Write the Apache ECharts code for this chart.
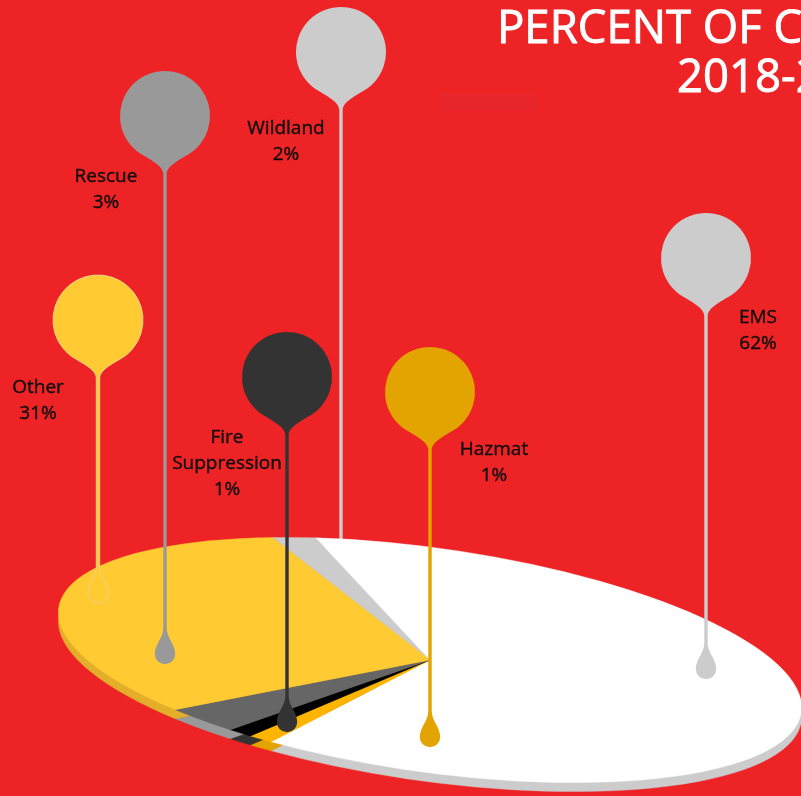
<!DOCTYPE html>
<html>
<head>
<meta charset="utf-8">
<title>Percent of Calls by Type</title>
<script src="https://cdn.jsdelivr.net/npm/echarts@6.0.0/dist/echarts.min.js"></script>
<style>
  html, body { margin: 0; padding: 0; background: #EE2325; overflow: hidden; }
  #chart { width: 801px; height: 796px; }
</style>
</head>
<body>
<div id="chart"></div>
<script>
// Call types, listed clockwise around the disc starting at the back (Wildland)
const categories = ['Wildland', 'EMS', 'Hazmat', 'Fire Suppression', 'Rescue', 'Other'];
const percents = [2, 62, 1, 1, 3, 31];

const titleLines = ['PERCENT OF CALLS BY TYPE', '2018-2019'];

// Colours: top face of each slice, its edge, and its marker pin
const sliceColors = ['#CCCCCC', '#FFFFFF', '#FFB400', '#000000', '#666666', '#FFCA32'];
const rimColors   = ['#AAAAAA', '#CCCCCC', '#E3A300', '#333333', '#999999', '#E3AE2A'];
const pinColors   = ['#CCCCCC', '#CCCCCC', '#E3A300', '#333333', '#999999', '#FFCA32'];

// Tilted disc: centre, radii of the flattened circle, tilt and edge depth (px)
const disc = { cx: 430, cy: 660, rx: 375, ry: 112, tilt: 8, depth: 9, startAngle: 117.5 };

// Pin placement: head centre, drop centre y, label centre; drawn behind the disc or in front
const pins = [
  { head: [341, 52],  tipY: 600, label: [286, 142], back: true },
  { head: [706, 258], tipY: 669, label: [758, 331] },
  { head: [430, 392], tipY: 737, label: [494, 463] },
  { head: [287, 377], tipY: 722, label: [227, 464] },
  { head: [165, 116], tipY: 654, label: [106, 190] },
  { head: [98, 320],  tipY: 593, label: [38, 401], outline: '#EDD38C' }
];

const total = percents.reduce((a, b) => a + b, 0);
const DEG = Math.PI / 180;

// One slice of the tilted disc, angles taken from the cumulative share
function sliceRenderer(colors, offsetY) {
  return function (params, api) {
    const i = params.dataIndex;
    let before = 0;
    for (let k = 0; k < i; k++) before += percents[k];
    const a0 = -disc.startAngle + before / total * 360;
    const a1 = a0 + api.value(0) / total * 360;
    return {
      type: 'group',
      x: disc.cx,
      y: disc.cy + offsetY,
      rotation: -disc.tilt * DEG,
      scaleY: disc.ry / disc.rx,
      children: [{
        type: 'sector',
        shape: { cx: 0, cy: 0, r0: 0, r: disc.rx, startAngle: a0 * DEG, endAngle: a1 * DEG, clockwise: true },
        style: { fill: colors[i], stroke: colors[i], lineWidth: 0.6 }
      }]
    };
  };
}

// Balloon-shaped pin: round head, short neck, thin stem and a drop at the tip
function pinPath(x, hy, ty) {
  const r = 45, s = r * Math.sin(40 * DEG), c = r * Math.cos(40 * DEG);
  const w = 1.7, dr = 10.2, neckY = hy + 58;
  return [
    'M', x - s, hy + c,
    'A', r, r, 0, 1, 1, x + s, hy + c,
    'C', x + 21.2, hy + 40.9, x + w, hy + 48, x + w, neckY,
    'L', x + w, ty - 26,
    'C', x + w, ty - 16, x + dr, ty - 10, x + dr, ty,
    'A', dr, dr, 0, 0, 1, x - dr, ty,
    'C', x - dr, ty - 10, x - w, ty - 16, x - w, ty - 26,
    'L', x - w, neckY,
    'C', x - w, hy + 48, x - 21.2, hy + 40.9, x - s, hy + c,
    'Z'
  ].join(' ');
}

function pinRenderer(params, api) {
  const i = api.value(0);
  const p = pins[i];
  return {
    type: 'path',
    shape: { pathData: pinPath(p.head[0], p.head[1], p.tipY) },
    style: p.outline
      ? { fill: pinColors[i], stroke: p.outline, lineWidth: 1 }
      : { fill: pinColors[i] }
  };
}

const backPins = [], frontPins = [];
pins.forEach((p, i) => (p.back ? backPins : frontPins).push(i));

const labelFont = '19px "Open Sans", "Noto Sans", sans-serif';
const labels = categories.map((name, i) => ({
  type: 'text',
  x: pins[i].label[0],
  y: pins[i].label[1],
  z: 20,
  silent: true,
  style: {
    text: name.replace(' ', '\n') + '\n' + percents[i] + '%',
    font: labelFont,
    fill: '#0D0D0D',
    stroke: '#0D0D0D',
    lineWidth: 0.35,
    align: 'center', textAlign: 'center',
    verticalAlign: 'middle', textVerticalAlign: 'middle',
    lineHeight: 26
  }
}));

const titleFont = '45.5px "Open Sans", "Noto Sans", sans-serif';
const titleStyle = (text) => ({
  text, font: titleFont, fill: '#FFFFFF', stroke: '#FFFFFF', lineWidth: 0.9,
  align: 'left', textAlign: 'left', verticalAlign: 'middle', textVerticalAlign: 'middle'
});

const chart = echarts.init(document.getElementById('chart'), null, { renderer: 'canvas' });
chart.setOption({
  backgroundColor: '#EE2325',
  animation: false,
  graphic: [
    { type: 'rect', z: 1, silent: true, shape: { x: 440, y: 94, width: 98, height: 17 }, style: { fill: '#E8262C' } },
    { type: 'text', x: 497, y: 30, z: 20, silent: true, style: titleStyle(titleLines[0]) },
    { type: 'text', x: 677, y: 79, z: 20, silent: true, style: titleStyle(titleLines[1]) }
  ].concat(labels),
  series: [
    { name: 'pins-back', type: 'custom', coordinateSystem: 'none', z: 1, silent: true,
      data: backPins, renderItem: pinRenderer },
    { name: 'edge', type: 'custom', coordinateSystem: 'none', z: 2, silent: true,
      data: percents, renderItem: sliceRenderer(rimColors, disc.depth) },
    { name: 'Percent of calls', type: 'custom', coordinateSystem: 'none', z: 3, silent: true,
      data: percents, renderItem: sliceRenderer(sliceColors, 0) },
    { name: 'pins-front', type: 'custom', coordinateSystem: 'none', z: 4, silent: true,
      data: frontPins, renderItem: pinRenderer }
  ]
});
</script>
</body>
</html>
